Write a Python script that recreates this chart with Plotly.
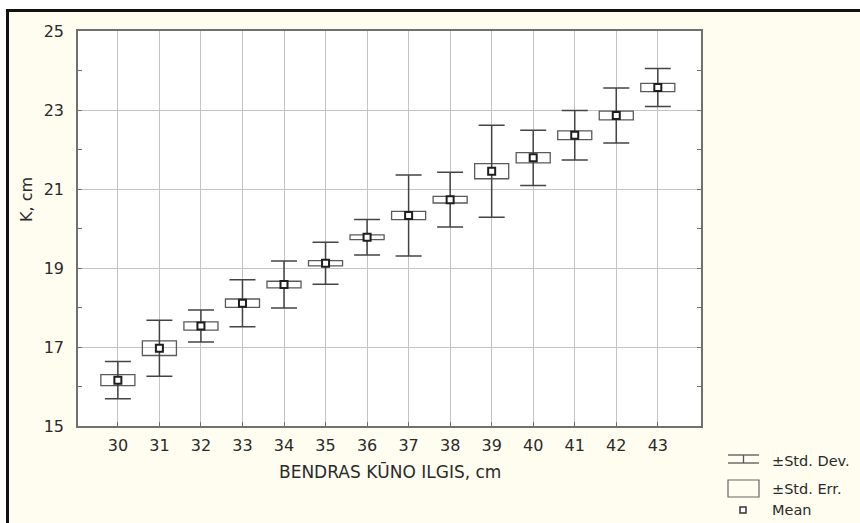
import plotly.graph_objects as go

# ---- data ----
categories = [30, 31, 32, 33, 34, 35, 36, 37, 38, 39, 40, 41, 42, 43]
means = [16.16, 16.97, 17.53, 18.11, 18.58, 19.12, 19.78, 20.33, 20.73, 21.45, 21.79, 22.36, 22.86, 23.57]
std_err = [0.14, 0.185, 0.105, 0.105, 0.085, 0.065, 0.06, 0.105, 0.085, 0.19, 0.13, 0.11, 0.11, 0.105]
std_dev = [0.47, 0.71, 0.405, 0.595, 0.595, 0.53, 0.45, 1.025, 0.695, 1.165, 0.70, 0.625, 0.695, 0.48]
y_ticks = [15, 17, 19, 21, 23, 25]
legend_labels = ["±Std. Dev.", "±Std. Err.", "Mean"]

W, H = 860, 523
L, R, T, B = 78, 701, 31, 426
FONT = "DejaVu Sans, Verdana, sans-serif"
TXT = "#2a2a2a"

def px(x):
    return (x - L) / (R - L)

def py(y):
    return (B - y) / (B - T)

fig = go.Figure()

# ±Std. Err. boxes
fig.add_trace(go.Bar(
    x=categories,
    y=[2 * s for s in std_err],
    base=[m - s for m, s in zip(means, std_err)],
    width=0.82,
    marker=dict(color="rgba(255,255,255,0)", line=dict(color="#5a5a5a", width=1.3)),
    showlegend=False, hoverinfo="skip",
))

# ±Std. Dev. whiskers + Mean markers
fig.add_trace(go.Scatter(
    x=categories, y=means, mode="markers",
    marker=dict(symbol="square", size=7, color="white", line=dict(color="#1e1e1e", width=2)),
    error_y=dict(type="data", array=std_dev, arrayminus=std_dev, symmetric=False,
                 color="#444444", thickness=1.5, width=13),
    showlegend=False,
))

shapes = []
# white strips and black frame lines (top and left)
shapes.append(dict(type="rect", xref="paper", yref="paper", x0=px(0), x1=px(W), y0=py(9), y1=py(0),
                   fillcolor="white", line=dict(width=0), layer="below"))
shapes.append(dict(type="rect", xref="paper", yref="paper", x0=px(0), x1=px(6), y0=py(H), y1=py(0),
                   fillcolor="white", line=dict(width=0), layer="below"))
shapes.append(dict(type="line", xref="paper", yref="paper", x0=px(6), x1=px(W), y0=py(10.5), y1=py(10.5),
                   line=dict(color="#111111", width=3)))
shapes.append(dict(type="line", xref="paper", yref="paper", x0=px(7.5), x1=px(7.5), y0=py(9), y1=py(H),
                   line=dict(color="#111111", width=3)))

# legend icons
lx0, lx1, lxc = 728, 759, 743.5
for yy in (455, 463):
    shapes.append(dict(type="line", xref="paper", yref="paper", x0=px(lx0), x1=px(lx1), y0=py(yy), y1=py(yy),
                       line=dict(color="#555555", width=1.3)))
shapes.append(dict(type="line", xref="paper", yref="paper", x0=px(lxc), x1=px(lxc), y0=py(455), y1=py(463),
                   line=dict(color="#555555", width=1.3)))
shapes.append(dict(type="rect", xref="paper", yref="paper", x0=px(lx0), x1=px(lx1), y0=py(497), y1=py(480),
                   line=dict(color="#666666", width=1.2), fillcolor="rgba(0,0,0,0)"))
shapes.append(dict(type="rect", xref="paper", yref="paper", x0=px(740), x1=px(746), y0=py(513), y1=py(507),
                   line=dict(color="#333333", width=1.5), fillcolor="white"))

annotations = []
for lab, yy in zip(legend_labels, (461, 489, 510)):
    annotations.append(dict(text=lab, xref="paper", yref="paper", x=px(770), y=py(yy),
                            xanchor="left", yanchor="middle", showarrow=False,
                            font=dict(family=FONT, size=14.5, color=TXT)))
annotations.append(dict(text="K, cm", xref="paper", yref="paper", x=px(27), y=py(200),
                        xanchor="center", yanchor="middle", textangle=-90, showarrow=False,
                        font=dict(family=FONT, size=16, color=TXT)))
annotations.append(dict(text="BENDRAS KŪNO ILGIS, cm", xref="paper", yref="paper", x=0.5, y=py(471),
                        xanchor="center", yanchor="middle", showarrow=False,
                        font=dict(family=FONT, size=17, color=TXT)))

fig.update_layout(
    width=W, height=H,
    margin=dict(l=L, r=W - R, t=T, b=H - B, pad=0),
    paper_bgcolor="#fffdf0",
    plot_bgcolor="white",
    font=dict(family=FONT, size=16, color=TXT),
    shapes=shapes, annotations=annotations,
    showlegend=False, barmode="overlay",
)
fig.update_xaxes(
    range=[29.04, 44.04], tickmode="array", tickvals=categories, ticktext=[str(c) for c in categories],
    showgrid=True, gridcolor="#c4c4c4", gridwidth=1,
    showline=True, linecolor="#707070", linewidth=1.5, mirror=True,
    ticks="inside", ticklen=4, tickcolor="#707070", zeroline=False,
    tickfont=dict(family=FONT, size=16, color=TXT), ticklabelstandoff=4,
)
fig.update_yaxes(
    range=[15, 25], tickmode="array", tickvals=y_ticks, ticktext=[str(v) for v in y_ticks],
    showgrid=True, gridcolor="#c4c4c4", gridwidth=1,
    showline=True, linecolor="#707070", linewidth=1.5, mirror="ticks",
    ticks="inside", ticklen=4, tickcolor="#707070", zeroline=False,
    minor=dict(dtick=1, tick0=15, ticks="inside", ticklen=4, tickcolor="#707070", showgrid=False),
    tickfont=dict(family=FONT, size=16, color=TXT), ticklabelstandoff=9,
)

fig.write_html("out.html")
